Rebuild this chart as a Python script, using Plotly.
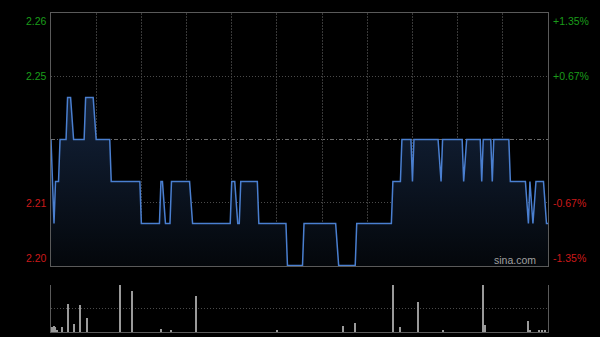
import plotly.graph_objects as go

# ---- data (HK intraday, minutes from 09:30, 330 trading minutes) ----
prev_close = 2.23
price_minutes = [0, 2, 3, 5, 6, 10, 11, 13, 15, 22, 23, 28, 30, 39, 40, 59, 60, 72, 73, 74,
                 76, 79, 80, 92, 94, 119, 120, 122, 124, 125, 126, 137, 138, 156, 157, 167,
                 168, 189, 191, 202, 203, 226, 227, 232, 233, 239, 240, 241, 257, 259, 260,
                 273, 274, 276, 285, 286, 287, 292, 293, 294, 304, 305, 315, 317, 318, 320,
                 322, 327, 329, 330]
prices = [2.23, 2.21, 2.22, 2.22, 2.23, 2.23, 2.24, 2.24, 2.23, 2.23, 2.24, 2.24, 2.23, 2.23,
          2.22, 2.22, 2.21, 2.21, 2.22, 2.22, 2.21, 2.21, 2.22, 2.22, 2.21, 2.21, 2.22, 2.22,
          2.21, 2.21, 2.22, 2.22, 2.21, 2.21, 2.20, 2.20, 2.21, 2.21, 2.20, 2.20, 2.21, 2.21,
          2.22, 2.22, 2.23, 2.23, 2.22, 2.23, 2.23, 2.22, 2.23, 2.23, 2.22, 2.23, 2.23, 2.22,
          2.23, 2.23, 2.22, 2.23, 2.23, 2.22, 2.22, 2.21, 2.22, 2.21, 2.22, 2.22, 2.21, 2.21]

vol_minutes = [0, 1, 2, 3, 4, 7, 11, 15, 19, 24, 46, 54, 73, 80, 96, 150, 194, 202, 227, 232,
               244, 260, 287, 288, 317, 318, 324, 326, 328]
volumes = [40, 50, 60, 50, 20, 50, 280, 80, 270, 140, 520, 410, 30, 10, 360, 20, 60, 90, 520,
           50, 300, 10, 520, 70, 110, 10, 20, 10, 20]
vol_max = 470

left_labels = ["2.26", "2.25", "2.21", "2.20"]
right_labels = ["+1.35%", "+0.67%", "-0.67%", "-1.35%"]
pct_levels = [0.0135, 0.00675, -0.00675, -0.0135]

y_lo = prev_close * (1 - 0.0135)
y_hi = prev_close * (1 + 0.0135)

GREEN = "#1a9c1a"
RED = "#cc1a1a"
BORDER = "#5a5a5a"
FONT = "Liberation Sans, Arial, sans-serif"

fig = go.Figure()

# baseline for the fill
fig.add_trace(go.Scatter(x=[0, 330], y=[y_lo, y_lo], mode="lines",
                         line=dict(width=0, color="rgba(0,0,0,0)"),
                         hoverinfo="skip", showlegend=False, xaxis="x", yaxis="y"))
fig.add_trace(go.Scatter(
    x=price_minutes, y=prices, mode="lines",
    line=dict(color="#4a7fd0", width=1.5),
    fill="tonexty",
    fillgradient=dict(type="vertical", start=y_lo, stop=2.24,
                      colorscale=[[0, "#04070b"], [1, "#13223a"]]),
    showlegend=False, xaxis="x", yaxis="y"))

fig.add_trace(go.Bar(x=vol_minutes, y=volumes, width=0.7,
                     marker=dict(color="#9a9a9a", line=dict(width=0)),
                     showlegend=False, xaxis="x2", yaxis="y2"))

annotations = []
for lab, rl, p in zip(left_labels, right_labels, pct_levels):
    col = GREEN if p > 0 else RED
    yv = prev_close * (1 + p)
    if abs(p) > 0.01:
        ya = "top" if p > 0 else "bottom"
    else:
        ya = "middle"
    annotations.append(dict(text=lab, x=0, xref="paper", y=yv, yref="y",
                            xanchor="right", yanchor=ya, xshift=-2, showarrow=False,
                            font=dict(color=col, size=10.5, family=FONT)))
    annotations.append(dict(text=rl, x=1, xref="paper", y=yv, yref="y",
                            xanchor="left", yanchor=ya, xshift=3, showarrow=False,
                            font=dict(color=col, size=10.5, family=FONT)))
annotations.append(dict(text="sina.com", x=0.98, xref="paper", y=y_lo, yref="y",
                        xanchor="right", yanchor="bottom", yshift=-2, showarrow=False,
                        font=dict(color="#a0a0a0", size=10.5, family=FONT)))

fig.update_layout(
    width=600, height=337,
    margin=dict(l=51, r=52, t=13, b=5),
    paper_bgcolor="#000000", plot_bgcolor="#000000",
    showlegend=False,
    xaxis=dict(domain=[0, 1], range=[0, 330], anchor="y", tick0=0, dtick=30,
               showgrid=True, gridcolor="#383838", griddash="2px,1px", gridwidth=1,
               showticklabels=False, ticks="", zeroline=False,
               showline=True, linecolor=BORDER, linewidth=1, mirror=True),
    yaxis=dict(domain=[0.2069, 1], range=[y_lo, y_hi], anchor="x",
               tickvals=[prev_close * 1.00675, prev_close * 0.99325],
               showgrid=True, gridcolor="#4a4a4a", griddash="1px,2px", gridwidth=1,
               showticklabels=False, ticks="", zeroline=False,
               showline=True, linecolor=BORDER, linewidth=1, mirror=True),
    xaxis2=dict(domain=[0, 1], range=[0, 330], anchor="y2",
                showgrid=False, showticklabels=False, ticks="", zeroline=False,
                showline=True, linecolor=BORDER, linewidth=1),
    yaxis2=dict(domain=[0, 0.1473], range=[0, vol_max], anchor="x2",
                tickvals=[vol_max / 2, vol_max],
                showgrid=True, gridcolor="#4a4a4a", griddash="1px,2px", gridwidth=1,
                showticklabels=False, ticks="", zeroline=False,
                showline=True, linecolor=BORDER, linewidth=1, mirror=True),
    shapes=[dict(type="line", xref="x", yref="y", x0=0, x1=330, y0=prev_close, y1=prev_close,
                 line=dict(color="#6a6a6a", width=1, dash="4px,2px,1px,2px"), layer="below")],
    annotations=annotations,
)

fig.write_html("out.html")
